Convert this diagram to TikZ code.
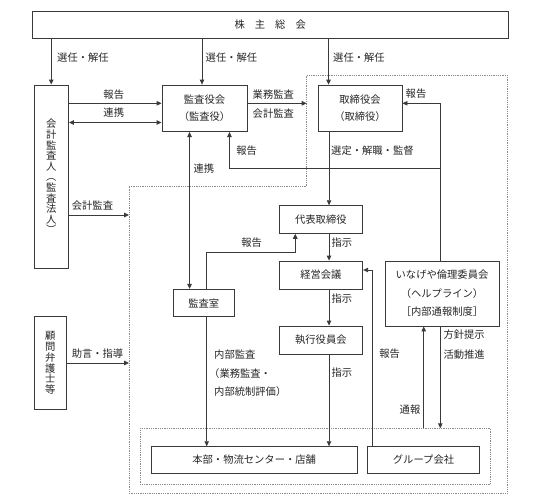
\documentclass[tikz,border=0pt]{standalone}
\usepackage{fontspec}
\setmainfont{Noto Sans CJK JP}
\usetikzlibrary{arrows.meta}
\definecolor{ln}{HTML}{3A3A3A}
\definecolor{tx}{HTML}{262626}
\definecolor{dt}{HTML}{8A8A8A}
\begin{document}
\begin{tikzpicture}[x=1pt,y=-1pt,
  font=\fontsize{10.3}{12}\selectfont,
  box/.style={draw=ln, line width=0.9pt, fill=white, inner sep=0pt, text=tx, align=center},
  lbl/.style={inner sep=0pt, text=tx},
  arr/.style={draw=ln, line width=0.9pt, -{Triangle[length=5pt,width=4.5pt]}},
  arrb/.style={draw=ln, line width=0.9pt, {Triangle[length=5pt,width=4.5pt]}-{Triangle[length=5pt,width=4.5pt]}},
  dotbox/.style={draw=dt, line width=0.8pt, densely dotted}]
\useasboundingbox (0,0) rectangle (547,504);

% dotted regions
\coordinate (o1) at (129,186.7);
\coordinate (o2) at (306.7,186.7);
\coordinate (o3) at (306.7,75);
\coordinate (o4) at (507,75);
\coordinate (o5) at (507,493);
\coordinate (o6) at (129,493);
\coordinate (i1) at (140,428.3);
\coordinate (i2) at (490.7,484);
\draw[dotbox] (o1) -- (o2) -- (o3) -- (o4) -- (o5) -- (o6) -- cycle;
\draw[dotbox] (i1) rectangle (i2);

% boxes
\node[box, minimum width=475.5pt, minimum height=27pt] (sh) at (270.25,24.75)
  {株\hspace{10pt}主\hspace{10pt}総\hspace{10pt}会};
\node[box, minimum width=34.5pt, minimum height=183pt, font=\fontsize{10.3}{10.6}\selectfont] (kaikei) at (51.25,176.5)
  {会\\計\\監\\査\\人\\︵\\監\\査\\法\\人\\︶};
\node[box, minimum width=31.7pt, minimum height=92.6pt, font=\fontsize{10.3}{10.7}\selectfont] (komon) at (50.2,363)
  {顧\\問\\弁\\護\\士\\等};
\node[box, minimum width=85pt, minimum height=46.5pt, font=\fontsize{10.3}{17.7}\selectfont] (kansa) at (204.5,108.3)
  {監査役会\\（監査役）};
\node[box, minimum width=84pt, minimum height=46.5pt, font=\fontsize{10.3}{17.7}\selectfont] (tori) at (360,108.3)
  {取締役会\\（取締役）};
\node[box, minimum width=83.7pt, minimum height=27.6pt] (daihyo) at (320.85,219.5) {代表取締役};
\node[box, minimum width=83.7pt, minimum height=28pt] (keiei) at (320.85,275) {経営会議};
\node[box, minimum width=83.7pt, minimum height=28pt] (shikko) at (320.85,340) {執行役員会};
\node[box, minimum width=61pt, minimum height=27.4pt] (kshitsu) at (203.8,303) {監査室};
\node[box, minimum width=114pt, minimum height=65pt, font=\fontsize{10.3}{18.6}\selectfont] (inageya) at (442,293.5)
  {いなげや倫理委員会\\（ヘルプライン）\\［内部通報制度］};
\node[box, minimum width=206.3pt, minimum height=26.6pt] (honbu) at (254.15,460) {本部・物流センター・店舗};
\node[box, minimum width=111.6pt, minimum height=26.6pt] (group) at (423.5,460) {グループ会社};

% connectors from shareholders
\draw[arr] (kaikei.north |- sh.south) -- (kaikei.north);
\draw[arr] ([xshift=-2.5pt]kansa.north |- sh.south) -- ([xshift=-2.5pt]kansa.north);
\draw[arr] ([xshift=11pt]tori.north west |- sh.south) -- ([xshift=11pt]tori.north west);

% kaikei <-> kansa
\coordinate (k1) at ([yshift=-18.7pt]kansa.north west);
\coordinate (k2) at ([yshift=9.5pt]kansa.south west);
\draw[arr] (kaikei.east |- k1) -- (k1);
\draw[arrb] (kaikei.east |- k2) -- (k2);

% kansa -> dotted area
\draw[arr] (kansa.east |- k1) -- (k1 -| o3);

% report to tori and kansa
\coordinate (j1) at ([xshift=-1.3pt]inageya.north |- 0,168.3);
\draw[arr] ([xshift=-1.3pt]inageya.north) |- (tori.east |- k1);
\draw[arr] (j1) -| ([xshift=-18pt]kansa.south east);

% kansa <-> kansashitsu
\draw[arrb] ([xshift=16.7pt]kshitsu.north west) -- ([xshift=16.7pt]kshitsu.north west |- kansa.south);

% tori -> daihyo
\draw[arr] ([xshift=8.2pt]daihyo.north |- tori.south) -- ([xshift=8.2pt]daihyo.north);

% external inputs
\coordinate (c1) at (129,215);
\draw[arr] (kaikei.east |- c1) -- (c1);
\draw[arr] (komon.east) -- (komon.east -| o1);

% kansashitsu -> daihyo
\coordinate (b1) at ([xshift=16.7pt,yshift=-19pt]daihyo.south west);
\draw[arr] ([xshift=2.9pt]kshitsu.north) |- (b1) -- (b1 |- daihyo.south);

% chain
\draw[arr] ([xshift=8.2pt]daihyo.south) -- ([xshift=8.2pt]keiei.north);
\draw[arr] ([xshift=8.2pt]keiei.south) -- ([xshift=8.2pt]shikko.north);
\draw[arr] ([xshift=8.2pt]shikko.south) -- ([xshift=8.2pt]shikko.south |- honbu.north);
\draw[arr] ([xshift=2.9pt]kshitsu.south) -- ([xshift=2.9pt]kshitsu.south |- honbu.north);

% group -> keiei
\draw[arr] ([xshift=5.6pt]group.north west) |- ([yshift=5pt]keiei.east);

% inageya <-> group area
\draw[arr] ([xshift=-18.3pt]inageya.south |- i1) -- ([xshift=-18.3pt]inageya.south);
\draw[arr] ([xshift=-1.7pt]inageya.south) -- ([xshift=-1.7pt]inageya.south |- i1);

% labels
\node[lbl, anchor=west] (l1) at (57,57.7) {選任・解任};
\node[lbl, anchor=west] (l2) at (205.5,57.7) {選任・解任};
\node[lbl, anchor=west] (l3) at (333,57.7) {選任・解任};
\node[lbl] (l4) at (113.75,95) {報告};
\node[lbl] (l5) at (113.75,113) {連携};
\node[lbl] (l6) at (273.3,94.3) {業務監査};
\node[lbl] (l7) at (273.3,113.3) {会計監査};
\node[lbl] (l8) at (416,94) {報告};
\node[lbl] (l9) at (246.7,151) {報告};
\node[lbl] (l10) at (203.8,168.5) {連携};
\node[lbl, anchor=west] (l11) at (331,151) {選定・解職・監督};
\node[lbl] (l12) at (92.5,206) {会計監査};
\node[lbl] (l13) at (251.7,242.7) {報告};
\node[lbl] (l14) at (341.8,242.3) {指示};
\node[lbl] (l15) at (341.8,298.3) {指示};
\node[lbl] (l16) at (341.8,372.7) {指示};
\node[lbl, anchor=west] (l17) at (214,355) {内部監査};
\node[lbl, anchor=west] (l18) at (209,373.3) {（業務監査・};
\node[lbl, anchor=west] (l19) at (214,391.7) {内部統制評価）};
\node[lbl] (l20) at (389.7,354) {報告};
\node[lbl] (l21) at (410,410) {通報};
\node[lbl, anchor=west] (l22) at (443.3,335) {方針提示};
\node[lbl, anchor=west] (l23) at (443.3,354.3) {活動推進};
\node[lbl] (l24) at (97.5,354) {助言・指導};
\end{tikzpicture}
\end{document}
